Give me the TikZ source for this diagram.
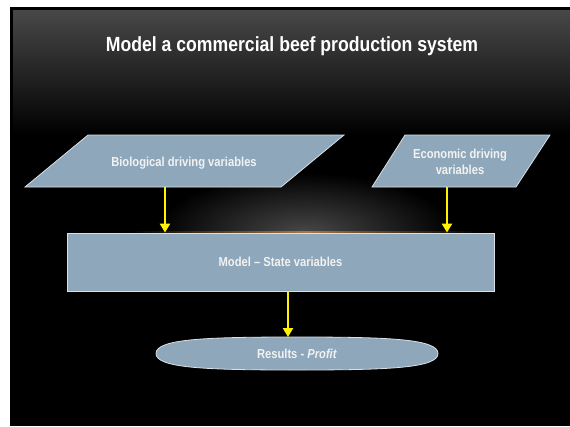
\documentclass[tikz,border=0pt]{standalone}
\usepackage{fontspec}
\setmainfont[FakeStretch=0.86]{Liberation Sans}
\usetikzlibrary{arrows.meta,calc}
\definecolor{boxfill}{RGB}{143,167,186}
\definecolor{boxline}{RGB}{218,224,230}
\definecolor{txt}{RGB}{242,242,242}
\definecolor{topgray}{RGB}{72,72,72}
\definecolor{glow}{RGB}{72,72,72}
\definecolor{amber}{RGB}{170,120,65}
\begin{document}
\begin{tikzpicture}[x=1pt,y=-1pt,
  box/.style={fill=boxfill,draw=boxline,line width=0.8pt},
  lbl/.style={text=txt,font=\bfseries\fontsize{13}{16}\selectfont,align=center},
  flow/.style={draw=yellow,line width=2.2pt,-{Triangle[width=10pt,length=9pt]}}]
\useasboundingbox (0,0) rectangle (570,426);
% page and slide background
\fill[white] (0,0) rectangle (570,426);
\fill[black] (10,7) rectangle (570,426);
\shade[top color=topgray,bottom color=black] (13,10) rectangle (570,135);
% soft light above the model box
\begin{scope}
  \clip (60,150) rectangle (520,233);
  \shade[inner color=glow,outer color=black] (305,233) ellipse (150 and 60);
\end{scope}
\shade[left color=black,right color=black,middle color=amber] (130,231.8) rectangle (480,233);

% title
\node[text=white,font=\bfseries\fontsize{20.5}{24}\selectfont,anchor=base] (title) at (292,51.7)
  {Model a commercial beef production system};

% biological driving variables (parallelogram)
\draw[box] (88,135) -- (344,135) -- (281,187) -- (25,187) -- cycle;
\node[lbl,anchor=base] (bio) at (184,166.7) {Biological driving variables};

% economic driving variables (parallelogram)
\draw[box] (405,135) -- (550,135) -- (516,187) -- (372,187) -- cycle;
\node[lbl,anchor=base] (eco) at (460,174.3) {Economic driving\\variables};

% model box
\node[box,minimum width=427pt,minimum height=58pt,inner sep=0] (model) at (280.5,262) {};
\node[lbl,anchor=base] (modeltext) at (280.5,266.7) {Model – State variables};

% results (rounded oval)
\draw[box] (156,353.5) .. controls (156,339) and (205,337) .. (297,337)
  .. controls (389,337) and (438,339) .. (438,353.5)
  .. controls (438,368) and (389,370) .. (297,370)
  .. controls (205,370) and (156,368) .. (156,353.5) -- cycle;
\node[lbl,anchor=base] (res) at (297,358.3) {Results - \textit{Profit}};
\coordinate (restop) at (288,337);

% connectors
\coordinate (bioout) at (165,187);
\coordinate (ecoout) at (447,187);
\coordinate (modout) at (288,291);
\draw[flow] (bioout) -- (bioout |- model.north);
\draw[flow] (ecoout) -- (ecoout |- model.north);
\draw[flow] (modout) -- (restop);
\end{tikzpicture}
\end{document}
